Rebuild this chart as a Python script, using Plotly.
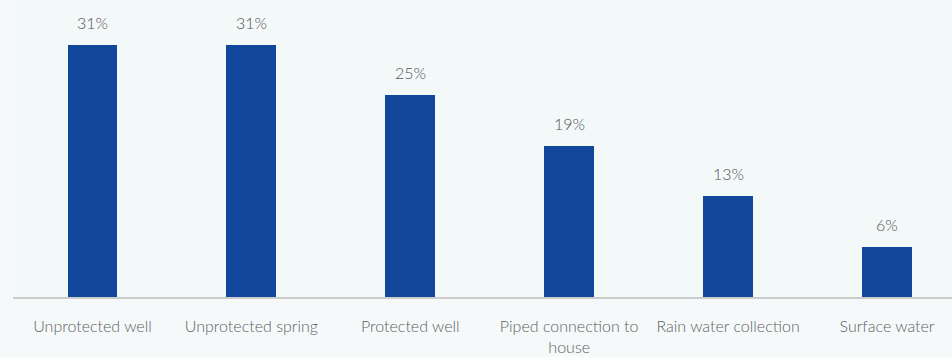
import plotly.graph_objects as go

categories = ["Unprotected well", "Unprotected spring", "Protected well",
              "Piped connection to<br>house", "Rain water collection", "Surface water"]
values = [31, 31, 24.8, 18.6, 12.4, 6.2]
labels = ["31%", "31%", "25%", "19%", "13%", "6%"]

fig = go.Figure()
fig.add_trace(go.Bar(
    x=categories, y=values, width=0.314,
    marker=dict(color="#12489b", line=dict(width=0)),
    hoverinfo="skip",
))
for c, v, t in zip(categories, values, labels):
    fig.add_annotation(x=c, y=v, text=t, showarrow=False, yanchor="bottom",
                       yshift=11, font=dict(family="Lato", size=16, weight=300, color="#555555"))

fig.update_layout(
    width=952, height=357,
    margin=dict(l=13, r=0, t=0, b=60),
    paper_bgcolor="#f6f9fa", plot_bgcolor="#f3f8f9",
    showlegend=False,
    bargap=0,
    xaxis=dict(range=[-0.5, 5.409], showgrid=False, zeroline=False,
               showline=True, linecolor="#cccccc", linewidth=2,
               ticks="", ticklabelstandoff=14,
               tickfont=dict(family="Lato", size=16, weight=300, color="#5f5f5f")),
    yaxis=dict(range=[0, 36.5], visible=False, showgrid=False, zeroline=False),
)
fig.write_html("out.html")
